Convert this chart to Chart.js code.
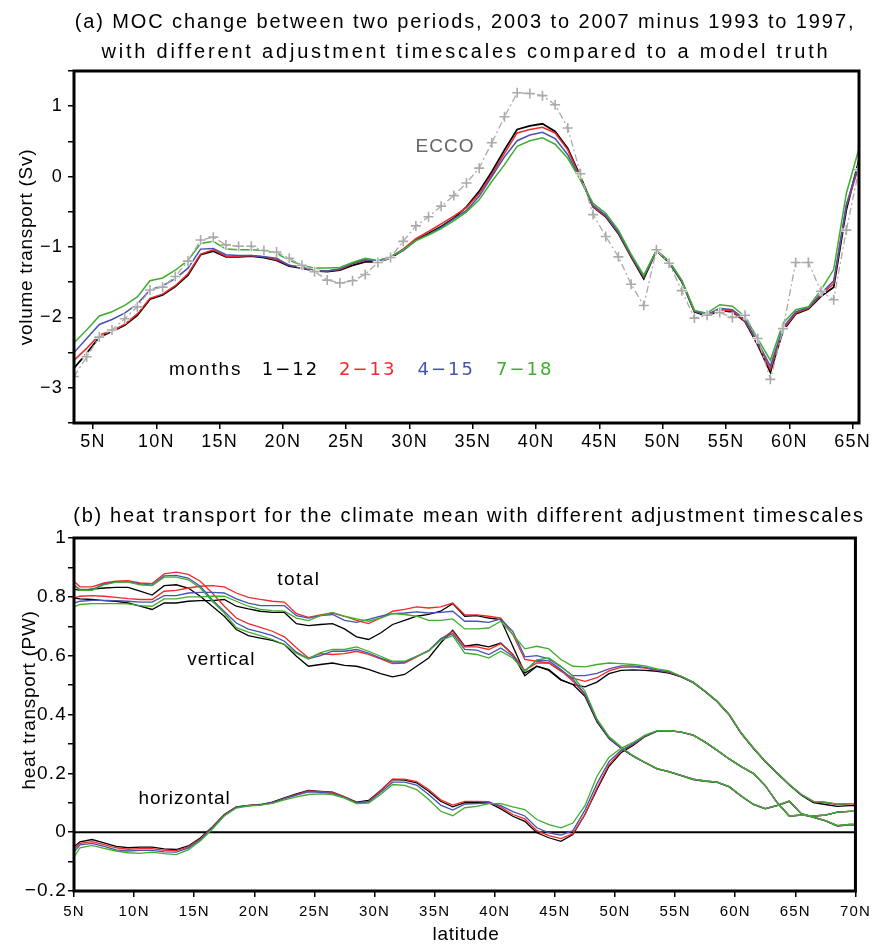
<!DOCTYPE html>
<html>
<head>
<meta charset="utf-8">
<script src="https://cdn.jsdelivr.net/npm/chart.js@4.4.0/dist/chart.umd.min.js"></script>
<style>
  body { margin: 0; background: #fff; }
  #wrap { position: relative; width: 877px; height: 945px; }
  #moc { position: absolute; left: 0; top: 0; }
  #heat { position: absolute; left: 0; top: 470px; }
</style>
</head>
<body>
<div id="wrap">
  <canvas id="moc" width="877" height="470"></canvas>
  <canvas id="heat" width="877" height="475"></canvas>
</div>
<script>
// ---- (a) MOC change, Sv, at section latitudes ----
var mocLat = [3.5, 4.5, 5.5, 6.5, 7.5, 8.5, 9.5, 10.5, 11.5, 12.5,
  13.5, 14.5, 15.5, 16.5, 17.5, 18.5, 19.5, 20.5, 21.5, 22.5,
  23.5, 24.5, 25.5, 26.5, 27.5, 28.5, 29.5, 30.5, 31.5, 32.5,
  33.5, 34.5, 35.5, 36.5, 37.5, 38.5, 39.5, 40.5, 41.5, 42.5,
  43.5, 44.5, 45.5, 46.5, 47.5, 48.5, 49.5, 50.5, 51.5, 52.5,
  53.5, 54.5, 55.5, 56.5, 57.5, 58.5, 59.5, 60.5, 61.5, 62.5,
  63.5, 64.5, 65.5];

var moc1to12 = [-2.72, -2.51, -2.28, -2.20, -2.11, -1.97, -1.74, -1.68, -1.56, -1.40,
  -1.11, -1.06, -1.14, -1.14, -1.13, -1.15, -1.19, -1.27, -1.30, -1.34,
  -1.35, -1.33, -1.26, -1.21, -1.21, -1.16, -1.04, -0.90, -0.81, -0.71,
  -0.59, -0.43, -0.21, 0.07, 0.38, 0.67, 0.72, 0.75, 0.64, 0.40,
  0.00, -0.43, -0.57, -0.81, -1.14, -1.45, -1.05, -1.22, -1.49, -1.92,
  -1.98, -1.90, -1.92, -2.06, -2.39, -2.78, -2.19, -1.95, -1.88, -1.70,
  -1.57, -0.47, 0.24];

var moc2to13 = [-2.61, -2.44, -2.25, -2.19, -2.10, -1.95, -1.73, -1.67, -1.55, -1.38,
  -1.10, -1.04, -1.13, -1.13, -1.12, -1.14, -1.18, -1.26, -1.29, -1.33,
  -1.34, -1.32, -1.24, -1.19, -1.20, -1.14, -1.03, -0.88, -0.78, -0.67,
  -0.56, -0.44, -0.24, 0.03, 0.33, 0.62, 0.67, 0.70, 0.62, 0.38,
  -0.02, -0.43, -0.56, -0.80, -1.13, -1.43, -1.05, -1.21, -1.48, -1.91,
  -1.97, -1.89, -1.91, -2.05, -2.37, -2.74, -2.17, -1.94, -1.87, -1.68,
  -1.52, -0.42, 0.15];

var moc4to15 = [-2.50, -2.30, -2.10, -2.03, -1.94, -1.81, -1.61, -1.55, -1.45, -1.30,
  -1.03, -1.02, -1.11, -1.12, -1.12, -1.14, -1.16, -1.26, -1.29, -1.34,
  -1.34, -1.31, -1.23, -1.18, -1.20, -1.14, -1.05, -0.91, -0.82, -0.72,
  -0.60, -0.48, -0.28, 0.00, 0.28, 0.51, 0.59, 0.63, 0.54, 0.31,
  -0.04, -0.41, -0.55, -0.79, -1.12, -1.42, -1.05, -1.21, -1.48, -1.91,
  -1.96, -1.87, -1.89, -2.03, -2.35, -2.69, -2.14, -1.92, -1.86, -1.66,
  -1.48, -0.40, 0.19];

var moc7to18 = [-2.36, -2.18, -1.98, -1.92, -1.83, -1.71, -1.48, -1.44, -1.33, -1.19,
  -0.95, -0.92, -1.03, -1.04, -1.04, -1.05, -1.09, -1.19, -1.26, -1.30,
  -1.30, -1.29, -1.22, -1.16, -1.19, -1.14, -1.04, -0.91, -0.83, -0.74,
  -0.63, -0.50, -0.33, -0.07, 0.17, 0.43, 0.51, 0.55, 0.46, 0.26,
  -0.05, -0.38, -0.52, -0.76, -1.10, -1.40, -1.05, -1.20, -1.47, -1.90,
  -1.94, -1.82, -1.84, -1.99, -2.30, -2.61, -2.08, -1.89, -1.85, -1.61,
  -1.32, -0.24, 0.40];

var mocEcco = [-2.84, -2.56, -2.28, -2.18, -2.02, -1.85, -1.61, -1.57, -1.42, -1.20,
  -0.90, -0.86, -0.97, -0.99, -0.99, -1.05, -1.07, -1.16, -1.26, -1.35,
  -1.47, -1.51, -1.48, -1.39, -1.22, -1.15, -0.92, -0.70, -0.57, -0.42,
  -0.27, -0.09, 0.12, 0.48, 0.85, 1.19, 1.18, 1.15, 1.02, 0.69,
  0.04, -0.54, -0.85, -1.14, -1.53, -1.83, -1.04, -1.23, -1.62, -2.01,
  -1.97, -1.93, -2.00, -1.97, -2.30, -2.88, -2.16, -1.22, -1.22, -1.63,
  -1.75, -0.76, 0.10];

var mocLatTicks = [5, 10, 15, 20, 25, 30, 35, 40, 45, 50, 55, 60, 65];
var mocSvTicks = [-3.5, -3, -2.5, -2, -1.5, -1, -0.5, 0, 0.5, 1, 1.5];

// ---- (b) heat transport, PW ----
var heatLat = [5, 5.5, 6.5, 7.5, 8.5, 9.5, 10.5, 11.5, 12.5, 13.5,
  14.5, 15.5, 16.5, 17.5, 18.5, 19.5, 20.5, 21.5, 22.5, 23.5,
  24.5, 25.5, 26.5, 27.5, 28.5, 29.5, 30.5, 31.5, 32.5, 33.5,
  34.5, 35.5, 36.5, 37.5, 38.5, 39.5, 40.5, 41.5, 42.5, 43.5,
  44.5, 45.5, 46.5, 47.5, 48.5, 49.5, 50.5, 51.5, 52.5, 53.5,
  54.5, 55.5, 56.5, 57.5, 58.5, 59.5, 60.5, 61.5, 62.5, 63.5,
  64.5, 65.5, 66.5, 67.5, 68.5, 69.5, 70];

var total1to12 = [0.796, 0.793, 0.791, 0.787, 0.785, 0.779, 0.768, 0.757, 0.779, 0.779,
  0.785, 0.787, 0.787, 0.791, 0.768, 0.759, 0.751, 0.747, 0.747, 0.709,
  0.702, 0.706, 0.709, 0.691, 0.664, 0.655, 0.677, 0.706, 0.720, 0.734,
  0.740, 0.751, 0.777, 0.734, 0.736, 0.728, 0.723, 0.632, 0.541, 0.564,
  0.550, 0.517, 0.502, 0.494, 0.510, 0.539, 0.550, 0.552, 0.550, 0.547,
  0.541, 0.528, 0.508, 0.477, 0.443, 0.398, 0.335, 0.285, 0.239, 0.199,
  0.160, 0.126, 0.100, 0.094, 0.088, 0.090, 0.090];

var total2to13 = [0.796, 0.802, 0.804, 0.802, 0.798, 0.794, 0.791, 0.791, 0.819, 0.822,
  0.830, 0.836, 0.838, 0.834, 0.813, 0.798, 0.791, 0.785, 0.782, 0.743,
  0.730, 0.739, 0.745, 0.734, 0.720, 0.709, 0.728, 0.751, 0.757, 0.766,
  0.762, 0.766, 0.779, 0.739, 0.739, 0.734, 0.728, 0.672, 0.587, 0.581,
  0.575, 0.547, 0.524, 0.513, 0.525, 0.548, 0.560, 0.562, 0.558, 0.550,
  0.543, 0.530, 0.510, 0.479, 0.445, 0.400, 0.337, 0.287, 0.241, 0.201,
  0.162, 0.128, 0.104, 0.100, 0.094, 0.096, 0.096];

var total4to15 = [0.779, 0.785, 0.788, 0.788, 0.787, 0.785, 0.782, 0.782, 0.804, 0.804,
  0.813, 0.815, 0.815, 0.813, 0.793, 0.779, 0.770, 0.770, 0.770, 0.736,
  0.728, 0.736, 0.740, 0.720, 0.713, 0.723, 0.734, 0.743, 0.745, 0.749,
  0.745, 0.747, 0.751, 0.717, 0.717, 0.713, 0.725, 0.683, 0.596, 0.600,
  0.589, 0.562, 0.532, 0.532, 0.540, 0.555, 0.565, 0.565, 0.560, 0.552,
  0.545, 0.530, 0.510, 0.479, 0.445, 0.400, 0.337, 0.287, 0.241, 0.201,
  0.162, 0.128, 0.105, 0.101, 0.095, 0.097, 0.097];

var total7to18 = [0.766, 0.774, 0.777, 0.777, 0.777, 0.776, 0.770, 0.768, 0.793, 0.793,
  0.800, 0.800, 0.802, 0.802, 0.785, 0.768, 0.757, 0.753, 0.751, 0.728,
  0.719, 0.736, 0.747, 0.734, 0.725, 0.717, 0.728, 0.743, 0.740, 0.734,
  0.720, 0.720, 0.725, 0.691, 0.691, 0.694, 0.717, 0.672, 0.623, 0.632,
  0.623, 0.587, 0.564, 0.562, 0.570, 0.575, 0.573, 0.570, 0.565, 0.555,
  0.548, 0.530, 0.510, 0.479, 0.445, 0.400, 0.337, 0.287, 0.241, 0.201,
  0.162, 0.128, 0.105, 0.102, 0.095, 0.097, 0.097];

var vert1to12 = [0.826, 0.822, 0.826, 0.830, 0.832, 0.832, 0.819, 0.806, 0.838, 0.841,
  0.830, 0.802, 0.768, 0.734, 0.689, 0.668, 0.660, 0.652, 0.638, 0.598,
  0.564, 0.570, 0.575, 0.567, 0.564, 0.553, 0.539, 0.528, 0.536, 0.564,
  0.592, 0.643, 0.686, 0.632, 0.638, 0.630, 0.643, 0.604, 0.532, 0.564,
  0.553, 0.519, 0.502, 0.462, 0.375, 0.318, 0.285, 0.258, 0.236, 0.215,
  0.205, 0.192, 0.179, 0.173, 0.169, 0.154, 0.122, 0.094, 0.079, 0.090,
  0.105, 0.062, 0.050, 0.038, 0.021, 0.025, 0.025];

var vert2to13 = [0.853, 0.834, 0.834, 0.847, 0.853, 0.855, 0.847, 0.845, 0.878, 0.884,
  0.876, 0.853, 0.813, 0.768, 0.728, 0.709, 0.696, 0.683, 0.664, 0.627,
  0.592, 0.607, 0.604, 0.607, 0.615, 0.604, 0.589, 0.573, 0.575, 0.596,
  0.617, 0.657, 0.683, 0.630, 0.630, 0.621, 0.641, 0.604, 0.550, 0.575,
  0.575, 0.550, 0.513, 0.468, 0.380, 0.320, 0.287, 0.260, 0.237, 0.216,
  0.206, 0.193, 0.180, 0.174, 0.170, 0.155, 0.123, 0.095, 0.080, 0.091,
  0.106, 0.063, 0.051, 0.039, 0.022, 0.026, 0.026];

var vert4to15 = [0.841, 0.825, 0.825, 0.844, 0.851, 0.851, 0.844, 0.840, 0.871, 0.873,
  0.864, 0.836, 0.790, 0.750, 0.711, 0.690, 0.680, 0.668, 0.649, 0.612,
  0.589, 0.600, 0.615, 0.615, 0.621, 0.609, 0.592, 0.578, 0.578, 0.598,
  0.617, 0.657, 0.675, 0.621, 0.619, 0.604, 0.626, 0.598, 0.547, 0.585,
  0.582, 0.553, 0.520, 0.470, 0.380, 0.320, 0.287, 0.259, 0.236, 0.215,
  0.206, 0.193, 0.180, 0.174, 0.170, 0.155, 0.123, 0.095, 0.080, 0.091,
  0.106, 0.063, 0.051, 0.039, 0.022, 0.026, 0.026];

var vert7to18 = [0.838, 0.822, 0.822, 0.841, 0.850, 0.850, 0.841, 0.838, 0.867, 0.867,
  0.858, 0.830, 0.785, 0.745, 0.695, 0.680, 0.668, 0.655, 0.638, 0.608,
  0.589, 0.610, 0.621, 0.621, 0.630, 0.615, 0.598, 0.581, 0.581, 0.598,
  0.615, 0.652, 0.668, 0.609, 0.604, 0.592, 0.615, 0.592, 0.547, 0.586,
  0.592, 0.564, 0.530, 0.480, 0.385, 0.325, 0.290, 0.260, 0.237, 0.216,
  0.206, 0.193, 0.180, 0.174, 0.170, 0.155, 0.123, 0.095, 0.080, 0.091,
  0.106, 0.063, 0.051, 0.039, 0.022, 0.026, 0.026];

var horiz1to12 = [-0.050, -0.033, -0.025, -0.036, -0.048, -0.053, -0.051, -0.051, -0.057, -0.059,
  -0.047, -0.020, 0.018, 0.060, 0.086, 0.091, 0.094, 0.102, 0.117, 0.130,
  0.142, 0.139, 0.136, 0.120, 0.102, 0.108, 0.142, 0.179, 0.177, 0.168,
  0.139, 0.105, 0.086, 0.100, 0.100, 0.100, 0.079, 0.054, 0.037, -0.002,
  -0.019, -0.031, -0.008, 0.060, 0.145, 0.224, 0.270, 0.295, 0.325, 0.343,
  0.345, 0.340, 0.330, 0.306, 0.278, 0.249, 0.223, 0.200, 0.158, 0.100,
  0.055, 0.058, 0.055, 0.058, 0.068, 0.071, 0.071];

var horiz2to13 = [-0.058, -0.038, -0.032, -0.042, -0.053, -0.058, -0.056, -0.056, -0.062, -0.063,
  -0.050, -0.023, 0.016, 0.058, 0.085, 0.090, 0.093, 0.100, 0.115, 0.128,
  0.140, 0.138, 0.135, 0.120, 0.100, 0.105, 0.140, 0.180, 0.180, 0.172,
  0.145, 0.110, 0.092, 0.105, 0.105, 0.104, 0.085, 0.060, 0.045, 0.005,
  -0.012, -0.022, -0.005, 0.060, 0.150, 0.230, 0.275, 0.298, 0.326, 0.343,
  0.345, 0.340, 0.330, 0.306, 0.278, 0.249, 0.223, 0.200, 0.158, 0.100,
  0.055, 0.058, 0.055, 0.058, 0.068, 0.071, 0.071];

var horiz4to15 = [-0.068, -0.043, -0.038, -0.048, -0.060, -0.064, -0.062, -0.062, -0.067, -0.068,
  -0.054, -0.026, 0.014, 0.057, 0.084, 0.090, 0.093, 0.100, 0.114, 0.126,
  0.137, 0.135, 0.132, 0.118, 0.099, 0.103, 0.135, 0.170, 0.170, 0.160,
  0.128, 0.092, 0.075, 0.095, 0.097, 0.100, 0.090, 0.070, 0.055, 0.015,
  -0.002, -0.010, 0.005, 0.075, 0.165, 0.240, 0.278, 0.300, 0.327, 0.343,
  0.345, 0.340, 0.330, 0.306, 0.278, 0.249, 0.223, 0.200, 0.158, 0.100,
  0.055, 0.058, 0.055, 0.058, 0.068, 0.071, 0.071];

var horiz7to18 = [-0.085, -0.053, -0.045, -0.055, -0.064, -0.070, -0.072, -0.068, -0.073, -0.076,
  -0.060, -0.030, 0.010, 0.055, 0.082, 0.089, 0.092, 0.098, 0.110, 0.120,
  0.128, 0.130, 0.128, 0.116, 0.097, 0.099, 0.128, 0.162, 0.159, 0.145,
  0.111, 0.071, 0.056, 0.083, 0.088, 0.097, 0.097, 0.086, 0.077, 0.043,
  0.026, 0.015, 0.031, 0.090, 0.190, 0.255, 0.285, 0.305, 0.330, 0.345,
  0.345, 0.340, 0.330, 0.306, 0.278, 0.249, 0.223, 0.200, 0.158, 0.100,
  0.055, 0.058, 0.055, 0.058, 0.068, 0.071, 0.071];

var heatZeroLat = [5, 70];
var heatZero = [0, 0];
var heatLatTicks = [5, 10, 15, 20, 25, 30, 35, 40, 45, 50, 55, 60, 65, 70];
var heatPwTicks = [-0.2, -0.1, 0, 0.1, 0.2, 0.3, 0.4, 0.5, 0.6, 0.7, 0.8, 0.9, 1];

var C_BLACK = '#000000', C_RED = '#ee2a2a', C_BLUE = '#4654b0', C_GREEN = '#3fae2c', C_ECCO = '#aaaaaa';
var FONT = '"Liberation Sans", Arial, Helvetica, sans-serif';
var WIDE = '"DejaVu Sans", sans-serif';
var MINUS = '\u2212';

function pts(xs, ys) {
  return xs.map(function (x, i) { return { x: x, y: ys[i] }; });
}

function signed(s) {
  return s.charAt(0) === '-' ? MINUS + s.slice(1) : s;
}

function line(label, xs, ys, color, width, order) {
  return {
    label: label, data: pts(xs, ys), borderColor: color, borderWidth: width,
    pointRadius: 0, fill: false, tension: 0, order: order
  };
}

// frame around the plot and free text (titles, axis names, in-plot labels)
var decor = {
  id: 'decor',
  beforeLayout: function (chart, args, opts) { chart.ctx.letterSpacing = (opts.tickSpacing || 0) + 'px'; },
  beforeDraw: function (chart, args, opts) { chart.ctx.letterSpacing = (opts.tickSpacing || 0) + 'px'; },
  afterDraw: function (chart, args, opts) {
    var ctx = chart.ctx, a = chart.chartArea;
    ctx.save();
    ctx.lineWidth = 3;
    ctx.strokeStyle = '#000';
    ctx.strokeRect(a.left, a.top, a.right - a.left, a.bottom - a.top);
    (opts.texts || []).forEach(function (t) {
      var x = t.px !== undefined ? t.px : chart.scales.x.getPixelForValue(t.x);
      var y = t.py !== undefined ? t.py : chart.scales.y.getPixelForValue(t.y);
      ctx.save();
      ctx.font = (t.size || 19) + 'px ' + (t.family || FONT);
      ctx.fillStyle = t.color || '#000';
      ctx.letterSpacing = (t.spacing || 0) + 'px';
      ctx.textAlign = t.align || 'center';
      ctx.textBaseline = 'middle';
      ctx.translate(x, y);
      if (t.rotate) ctx.rotate(t.rotate);
      ctx.fillText(t.text, 0, 0);
      ctx.restore();
    });
    ctx.restore();
  }
};

function axisGrid() {
  return { drawOnChartArea: false, drawTicks: true, tickLength: 6, color: '#000', lineWidth: 1.5 };
}

// ---------- chart (a) ----------
new Chart(document.getElementById('moc'), {
  type: 'line',
  data: {
    datasets: [
      Object.assign(line('ECCO', mocLat, mocEcco, C_ECCO, 1.3, 0), {
        borderDash: [7, 3, 2, 3], pointStyle: 'cross', pointRadius: 5,
        pointBorderColor: C_ECCO, pointBorderWidth: 1.6
      }),
      // white backing under the ECCO crosses, so the model lines break around them
      {
        label: 'ECCO backing', data: pts(mocLat, mocEcco), showLine: false, order: 0.5,
        pointStyle: 'cross', pointRadius: 5, pointBorderColor: '#ffffff', pointBorderWidth: 3.2
      },
      line('7-18', mocLat, moc7to18, C_GREEN, 1.5, 1),
      line('4-15', mocLat, moc4to15, C_BLUE, 1.5, 2),
      line('2-13', mocLat, moc2to13, C_RED, 1.5, 3),
      line('1-12', mocLat, moc1to12, C_BLACK, 1.8, 4)
    ]
  },
  options: {
    responsive: false,
    animation: false,
    layout: { padding: { left: 0, right: 18, top: 71, bottom: 0 } },
    scales: {
      x: {
        type: 'linear', min: 3.5, max: 65.5,
        afterBuildTicks: function (s) { s.ticks = mocLatTicks.map(function (v) { return { value: v }; }); },
        afterFit: function (s) { s.height = 47; },
        grid: axisGrid(), border: { display: false },
        ticks: {
          color: '#000', font: { family: FONT, size: 18 }, padding: 2, maxRotation: 0, autoSkip: false,
          callback: function (v) { return v + 'N'; }
        }
      },
      y: {
        min: -3.5, max: 1.5,
        afterBuildTicks: function (s) { s.ticks = mocSvTicks.map(function (v) { return { value: v }; }); },
        afterFit: function (s) { s.width = 74; },
        grid: axisGrid(), border: { display: false },
        ticks: {
          color: '#000', font: { family: FONT, size: 18 }, padding: 5, autoSkip: false,
          callback: function (v) { return Number.isInteger(v) ? signed(String(v)) : ''; }
        }
      }
    },
    plugins: {
      legend: { display: false },
      tooltip: { enabled: false },
      decor: {
        tickSpacing: 1.2,
        texts: [
          { text: '(a) MOC change between two periods, 2003 to 2007 minus 1993 to 1997,', px: 465, py: 22, size: 20, spacing: 1.9 },
          { text: 'with different adjustment timescales compared to a model truth', px: 466, py: 52, size: 20, spacing: 2.8 },
          { text: 'volume transport (Sv)', px: 27, py: 247, rotate: -Math.PI / 2, size: 19, spacing: 0.7 },
          { text: 'ECCO', x: 32.8, y: 0.42, color: '#666666', size: 19, spacing: 1 },
          { text: 'months', x: 13.9, y: -2.75, size: 19, spacing: 1.8 },
          { text: '1' + MINUS + '12', x: 20.6, y: -2.75, size: 18, spacing: 2, family: WIDE },
          { text: '2' + MINUS + '13', x: 26.7, y: -2.75, size: 18, spacing: 2, family: WIDE, color: C_RED },
          { text: '4' + MINUS + '15', x: 32.9, y: -2.75, size: 18, spacing: 2, family: WIDE, color: C_BLUE },
          { text: '7' + MINUS + '18', x: 39.1, y: -2.75, size: 18, spacing: 2, family: WIDE, color: C_GREEN }
        ]
      }
    }
  },
  plugins: [decor]
});

// ---------- chart (b) ----------
new Chart(document.getElementById('heat'), {
  type: 'line',
  data: {
    datasets: [
      line('zero', heatZeroLat, heatZero, C_BLACK, 2, 20),
      line('total 7-18', heatLat, total7to18, C_GREEN, 1.3, 1),
      line('total 4-15', heatLat, total4to15, C_BLUE, 1.3, 2),
      line('total 2-13', heatLat, total2to13, C_RED, 1.3, 3),
      line('total 1-12', heatLat, total1to12, C_BLACK, 1.3, 4),
      line('vertical 7-18', heatLat, vert7to18, C_GREEN, 1.3, 1),
      line('vertical 4-15', heatLat, vert4to15, C_BLUE, 1.3, 2),
      line('vertical 2-13', heatLat, vert2to13, C_RED, 1.3, 3),
      line('vertical 1-12', heatLat, vert1to12, C_BLACK, 1.3, 4),
      line('horizontal 7-18', heatLat, horiz7to18, C_GREEN, 1.3, 1),
      line('horizontal 4-15', heatLat, horiz4to15, C_BLUE, 1.3, 2),
      line('horizontal 2-13', heatLat, horiz2to13, C_RED, 1.3, 3),
      line('horizontal 1-12', heatLat, horiz1to12, C_BLACK, 1.3, 4)
    ]
  },
  options: {
    responsive: false,
    animation: false,
    layout: { padding: { left: 0, right: 18, top: 68, bottom: 0 } },
    scales: {
      x: {
        type: 'linear', min: 5, max: 70,
        afterBuildTicks: function (s) { s.ticks = heatLatTicks.map(function (v) { return { value: v }; }); },
        afterFit: function (s) { s.height = 54; },
        grid: axisGrid(), border: { display: false },
        ticks: {
          color: '#000', font: { family: FONT, size: 15 }, padding: 6, maxRotation: 0, autoSkip: false,
          callback: function (v) { return v + 'N'; }
        }
      },
      y: {
        min: -0.2, max: 1,
        afterBuildTicks: function (s) { s.ticks = heatPwTicks.map(function (v) { return { value: v }; }); },
        afterFit: function (s) { s.width = 74; },
        grid: axisGrid(), border: { display: false },
        ticks: {
          color: '#000', font: { family: FONT, size: 19 }, padding: 1, autoSkip: false,
          callback: function (v) {
            var k = Math.round(v * 10);
            if (k % 2 !== 0) return '';
            if (k === 0) return '0';
            if (k === 10) return '1';
            return signed((k / 10).toFixed(1));
          }
        }
      }
    },
    plugins: {
      legend: { display: false },
      tooltip: { enabled: false },
      decor: {
        tickSpacing: 1.2,
        texts: [
          { text: '(b) heat transport for the climate mean with different adjustment timescales', px: 469, py: 46, size: 20, spacing: 1.7 },
          { text: 'heat transport (PW)', px: 30, py: 230, rotate: -Math.PI / 2, size: 19, spacing: 0.7 },
          { text: 'latitude', px: 466, py: 465, size: 19, spacing: 0.7 },
          { text: 'total', x: 23.7, y: 0.859, size: 19, spacing: 1.4 },
          { text: 'vertical', x: 17.25, y: 0.586, size: 19, spacing: 1.0 },
          { text: 'horizontal', x: 14.2, y: 0.114, size: 19, spacing: 1.0 }
        ]
      }
    }
  },
  plugins: [decor]
});
</script>
</body>
</html>
